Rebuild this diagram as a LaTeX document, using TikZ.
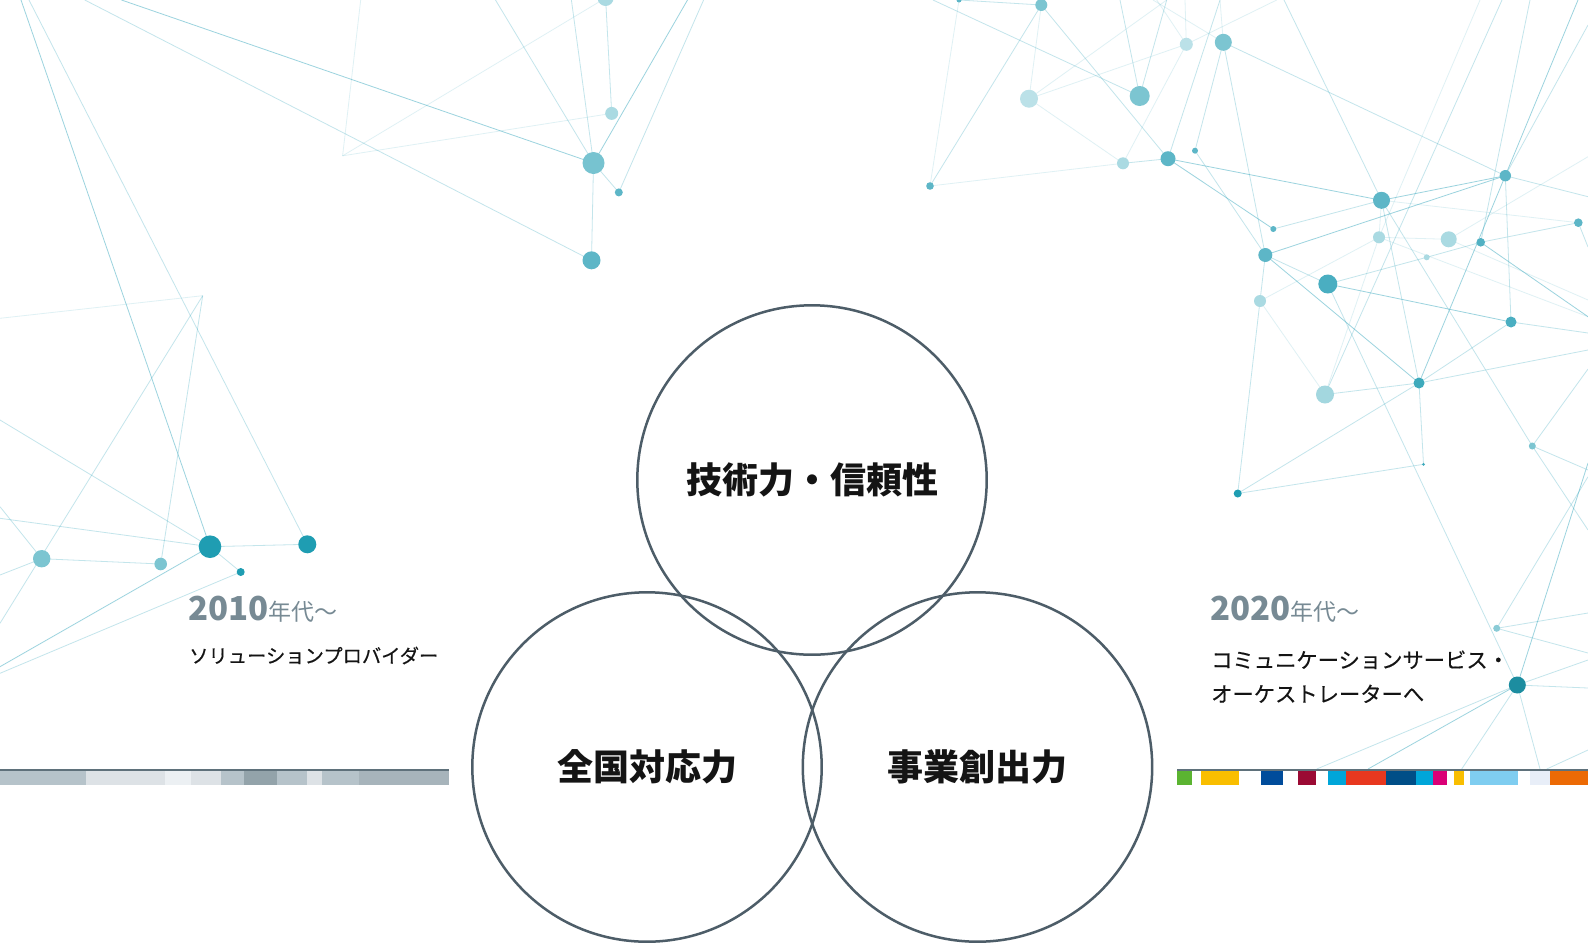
\documentclass[tikz,border=0pt]{standalone}
\usepackage{fontspec}
\newfontfamily\jp{Noto Sans CJK JP}
\newfontfamily\jpmed{Noto Sans CJK JP}[FakeBold=0.35]
\definecolor{ringgrey}{HTML}{4D5D68}
\definecolor{yeargrey}{HTML}{778A94}
\definecolor{netline}{HTML}{3AA9BF}
\definecolor{dotdark}{HTML}{1F9DB2}
\definecolor{dotmid}{HTML}{5DB6C7}
\definecolor{dotsoft}{HTML}{7CC5D1}
\definecolor{dotpale}{HTML}{AADAE2}
\definecolor{barline}{HTML}{5F717B}
\definecolor{gA}{HTML}{B6C3CA}
\definecolor{gB}{HTML}{DDE2E6}
\definecolor{gC}{HTML}{ECF0F3}
\definecolor{gD}{HTML}{93A3AA}
\definecolor{gE}{HTML}{A7B4BB}
\definecolor{cGreen}{HTML}{5BB431}
\definecolor{cYellow}{HTML}{F9BE00}
\definecolor{cBlue}{HTML}{004C9B}
\definecolor{cCrimson}{HTML}{9B0A34}
\definecolor{cCyan}{HTML}{00A6D9}
\definecolor{cRed}{HTML}{E8381F}
\definecolor{cNavy}{HTML}{004E87}
\definecolor{cMagenta}{HTML}{DA0076}
\definecolor{cSky}{HTML}{7FCDF0}
\definecolor{cPale}{HTML}{E8EEF8}
\definecolor{cOrange}{HTML}{EC6A05}
\newcommand\netdot[3]{\fill[#3] (#1) circle (#2);}
\begin{document}
\begin{tikzpicture}[x=1pt,y=-1pt,
  net/.style={line width=0.8pt,draw=netline,draw opacity=0.3},
  netfaint/.style={net,draw opacity=0.16},
  netstrong/.style={net,draw opacity=0.5},
  ring/.style={circle,draw=ringgrey,line width=2.5pt,minimum size=349.4pt,inner sep=0pt,
    font=\jp\bfseries\fontsize{36}{40}\selectfont,text=black!92},
  year/.style={anchor=base west,inner sep=0pt,text=yeargrey},
  caption/.style={anchor=base west,inner sep=0pt,text=black!92}]

\useasboundingbox (0,0) rectangle (1588,943);
\fill[white] (0,0) rectangle (1588,943);

% ---------- network points ----------
% upper left group
\coordinate (A1) at (593.5,163);
\coordinate (A2) at (611.7,113.4);
\coordinate (A3) at (618.8,192.4);
\coordinate (A4) at (591.5,260.3);
\coordinate (A5) at (605.6,-2);
\coordinate (AV) at (342.6,155.8);
\coordinate (t1) at (121.5,0);
\coordinate (t2) at (84.8,0);
\coordinate (t3) at (360.7,0);
\coordinate (t4) at (495.5,0);
\coordinate (t5) at (571.4,0);
\coordinate (t6) at (687.5,0);
\coordinate (t7) at (703.6,0);
% lower left group
\coordinate (N1) at (210,546.7);
\coordinate (N2) at (307.3,544.3);
\coordinate (N3) at (41.7,558.7);
\coordinate (N4) at (160.7,564);
\coordinate (N5) at (240.7,572);
\coordinate (V) at (202.7,295.7);
\coordinate (L1) at (21,0);
\coordinate (L2) at (29,0);
\coordinate (L3) at (0,318.3);
\coordinate (L4) at (0,623.3);
\coordinate (L5) at (0,420);
\coordinate (L6) at (0,518.3);
\coordinate (L7) at (0,506.7);
\coordinate (L8) at (0,666.7);
\coordinate (L9) at (0,673.3);
\coordinate (L10) at (0,575);
% right group
\coordinate (B1) at (1041.3,5);
\coordinate (B2) at (959,0);
\coordinate (B3) at (1029,98.7);
\coordinate (B4) at (1139.7,96);
\coordinate (B5) at (1186.3,44.3);
\coordinate (B6) at (1223.3,42.3);
\coordinate (B7) at (1168,158.7);
\coordinate (B8) at (1123,163.3);
\coordinate (B9) at (1195,150.7);
\coordinate (B10) at (930,186);
\coordinate (B11) at (1273.3,229);
\coordinate (B12) at (1265.3,255);
\coordinate (C1) at (1381.5,200.3);
\coordinate (C2) at (1505.3,175.7);
\coordinate (C3) at (1578.3,222.7);
\coordinate (C4) at (1379,237.3);
\coordinate (C5) at (1448.7,239.3);
\coordinate (C6) at (1480.7,242.3);
\coordinate (C7) at (1426.7,257.3);
\coordinate (D1) at (1327.8,284);
\coordinate (D2) at (1260,301);
\coordinate (D3) at (1511,322);
\coordinate (D4) at (1419,383);
\coordinate (D5) at (1325,394.5);
\coordinate (D6) at (1532.3,446);
\coordinate (D7) at (1423.5,464.3);
\coordinate (D8) at (1237.7,493.5);
\coordinate (D9) at (1496.7,628.3);
\coordinate (D10) at (1517.3,685);
\coordinate (R1) at (933,0);
\coordinate (R2) at (1120,0);
\coordinate (R3) at (1166.7,0);
\coordinate (R4) at (1156.7,0);
\coordinate (R5) at (1185,0);
\coordinate (R6) at (1276.7,0);
\coordinate (R7) at (1153,0);
\coordinate (R8) at (1220,0);
\coordinate (R9) at (1284,0);
\coordinate (R10) at (1502,0);
\coordinate (R11) at (1530,0);
\coordinate (R12) at (1578,0);
\coordinate (R13) at (1480,0);
\coordinate (R14) at (1588,196.7);
\coordinate (R15) at (1588,156.7);
\coordinate (R16) at (1588,247);
\coordinate (R17) at (1588,316.7);
\coordinate (R18) at (1588,300);
\coordinate (R19) at (1588,333);
\coordinate (R20) at (1588,350);
\coordinate (R21) at (1588,369);
\coordinate (R22) at (1588,470);
\coordinate (R23) at (1588,530);
\coordinate (R24) at (1588,613);
\coordinate (R25) at (1588,653);
\coordinate (R26) at (1588,476.7);
\coordinate (R27) at (1588,463);
\coordinate (R28) at (1588,688);
\coordinate (R29) at (1588,660);
\coordinate (R30) at (1316.7,769);
\coordinate (R31) at (1368,769);
\coordinate (R32) at (1461.7,769);
\coordinate (R33) at (1540,769);
\coordinate (R34) at (1588,750);
\coordinate (R35) at (1546.7,769);
\coordinate (R36) at (1588,25);

\begin{scope}
\clip (0,0) rectangle (1588,769);
% ---------- network lines ----------
\foreach \a/\b in {t1/A1, t6/A1, L1/N1, N1/L8, B12/C2, D1/D3, C1/C2,
                   B12/D4, D10/R27, D10/R31, C2/D4, B7/C1, C6/R17, R12/C2, B7/B11}
  \draw[netstrong] (\a) -- (\b);
\foreach \a/\b in {t2/A4, t4/A1, t5/A1, A3/t7, A1/A3, A1/A4, A5/A2,
                   L2/N2, V/L4, V/N4, L5/N1, L6/N1, L7/N3, L10/N3, N1/N2, N1/N5, N5/L9, N3/N4,
                   B2/B1, B1/B10, B1/B7, R1/B4, R2/B4, B4/R3, B6/B12, B6/B9, R8/B7, B6/C2,
                   B7/B8, B9/B12, B11/C1, R9/C1, B12/D2, D2/D8, D1/C7, C7/C6, C6/C3,
                   D1/D10, C1/D4, C1/D6, C2/D3, C2/R14, C2/R36, R11/C6,
                   D4/D8, D4/D7, D7/D8, D3/D4, D3/R19, D4/R20, R10/D5, D5/D4,
                   D6/R21, D6/R22, D6/R23, D9/R24, D9/R25, D9/R26,
                   D10/R28, D10/R29, D10/R30, D10/R32, D10/R33, R34/R35, C3/R16, B12/D1}
  \draw[net] (\a) -- (\b);
\foreach \a/\b in {AV/t3, AV/A5, AV/A2, L3/V, B2/B10, B1/B3, B3/B5, B3/B8, B3/R3,
                   B5/B8, R4/B5, R5/B5, B5/R6, R7/B6, R8/B6, B8/B10, D2/D5, D2/C4,
                   C1/C3, C1/C4, C4/C5, C5/R15, C5/R18, R13/C4, D5/C4, C4/R17}
  \draw[netfaint] (\a) -- (\b);
\end{scope}

% ---------- network dots ----------
\netdot{A1}{11}{dotsoft!85!dotmid}
\netdot{A2}{6.5}{dotpale}
\netdot{A3}{4}{dotmid}
\netdot{A4}{9}{dotmid}
\begin{scope}
\clip (0,0) rectangle (1588,943);
\netdot{A5}{8}{dotpale}
\netdot{B2}{2.5}{dotmid}
\netdot{B1}{6}{dotsoft}
\end{scope}
\netdot{N1}{11.3}{dotdark}
\netdot{N2}{9}{dotdark}
\netdot{N3}{8.7}{dotsoft}
\netdot{N4}{6.3}{dotsoft}
\netdot{N5}{4}{dotdark}
\netdot{B3}{9}{dotpale!80!white}
\netdot{B4}{10}{dotsoft}
\netdot{B5}{6.5}{dotpale!80!white}
\netdot{B6}{8.5}{dotsoft}
\netdot{B7}{7.5}{dotmid}
\netdot{B8}{6}{dotpale}
\netdot{B9}{3}{dotmid}
\netdot{B10}{3.8}{dotmid}
\netdot{B11}{3}{dotmid}
\netdot{B12}{7}{dotmid}
\netdot{C1}{8.5}{dotmid}
\netdot{C2}{5.7}{dotmid}
\netdot{C3}{4.3}{dotmid}
\netdot{C4}{6}{dotpale}
\netdot{C5}{8}{dotpale}
\netdot{C6}{4.3}{dotmid!80!dotdark}
\netdot{C7}{3}{dotpale}
\netdot{D1}{9.5}{dotmid!70!dotdark}
\netdot{D2}{6}{dotpale}
\netdot{D3}{5.5}{dotmid!70!dotdark}
\netdot{D4}{5.5}{dotmid!50!dotdark}
\netdot{D5}{9}{dotpale!85!dotsoft}
\netdot{D6}{3.5}{dotsoft}
\netdot{D7}{1.5}{dotmid!50!dotdark}
\netdot{D8}{4}{dotdark}
\netdot{D9}{3.5}{dotsoft!70!dotpale}
\netdot{D10}{8.5}{dotdark!90!black}

% ---------- colour strips ----------
\fill[barline] (0,769) rectangle (449,771);
\foreach \xa/\xb/\c in {0/86/gA, 86/165/gB, 165/191/gC, 191/221/gB, 221/244/gA,
                        244/277/gD, 277/307/gA, 307/322/gB, 322/359/gA, 359/449/gE}
  \fill[\c] (\xa,771) rectangle (\xb,785);
\fill[barline] (1177,769) rectangle (1588,771);
\foreach \xa/\xb/\c in {1177/1192/cGreen, 1201/1239/cYellow, 1261/1283/cBlue,
                        1298/1316/cCrimson, 1328/1346/cCyan, 1346/1386/cRed,
                        1386/1416/cNavy, 1416/1433/cCyan, 1433/1447/cMagenta,
                        1454/1464/cYellow, 1470/1518/cSky, 1530/1550/cPale, 1550/1588/cOrange}
  \fill[\c] (\xa,771) rectangle (\xb,785);

% ---------- three circles ----------
\node[ring] (tech) at (812,480) {技術力・信頼性};
\node[ring] (nation) at (647,767) {全国対応力};
\node[ring] (biz) at (977.5,767) {事業創出力};

% ---------- era captions ----------
\node[year] (y2010) at (188,620)
  {\jp\bfseries\fontsize{33}{33}\selectfont 2010\mdseries\fontsize{23}{23}\selectfont 年代～};
\node[caption] (c2010) at (189,663)
  {\jpmed\fontsize{19.3}{19.3}\selectfont ソリューションプロバイダー};
\node[year] (y2020) at (1210,620)
  {\jp\bfseries\fontsize{33}{33}\selectfont 2020\mdseries\fontsize{23}{23}\selectfont 年代～};
\node[caption] (c2020a) at (1211,668)
  {\jpmed\fontsize{21.3}{21.3}\selectfont コミュニケーションサービス・};
\node[caption] (c2020b) at (1211,702)
  {\jpmed\fontsize{21.3}{21.3}\selectfont オーケストレーターへ};
\end{tikzpicture}
\end{document}
